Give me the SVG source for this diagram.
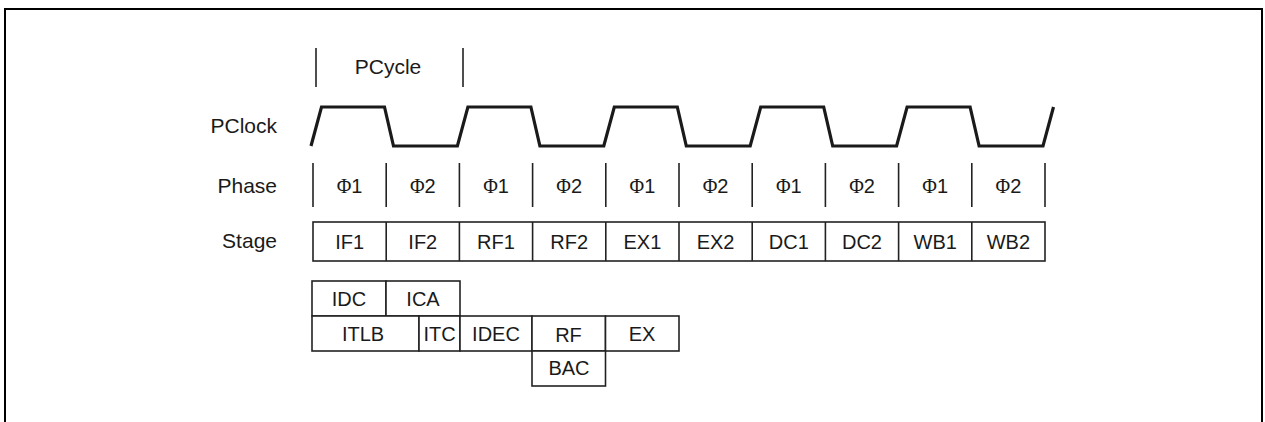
<svg xmlns="http://www.w3.org/2000/svg" width="1265" height="422" viewBox="0 0 1265 422">
<style>
  text { font-family: "Liberation Sans", Arial, sans-serif; fill: #1a1a1a; }
  .lbl { font-size: 21px; text-anchor: end; }
  .t { font-size: 20px; text-anchor: middle; }
  .phi { font-family: "Liberation Serif", "Times New Roman", serif; }
  .tick { stroke: #222; stroke-width: 1.6; fill: none; }
  .box { stroke: #222; stroke-width: 1.6; fill: #fff; }
  .clk { stroke: #1a1a1a; stroke-width: 3.2; fill: none; stroke-linejoin: miter; }
</style>
<rect width="1265" height="422" fill="#fff"/>
<path d="M5,422 V9 H1262 V422" fill="none" stroke="#000" stroke-width="2"/>

<g id="labels">
  <text class="lbl" x="277" y="133">PClock</text>
  <text class="lbl" x="277" y="193">Phase</text>
  <text class="lbl" x="277" y="248">Stage</text>
</g>

<g id="pcycle">
  <line class="tick" x1="316" y1="48" x2="316" y2="87"/>
  <line class="tick" x1="463" y1="48" x2="463" y2="87"/>
  <text class="t" x="388" y="74" style="font-size:21px">PCycle</text>
</g>

<g id="pclock">
  <path class="clk" d="M311,146 L321.5,107 L384.5,107 L393.5,146 L457.4,146 L467.9,107 L530.9,107 L539.9,146 L603.8,146 L614.3,107 L677.3,107 L686.3,146 L750.2,146 L760.7,107 L823.7,107 L832.7,146 L896.6,146 L907.1,107 L970.1,107 L979.1,146 L1043,146 L1053.5,107"/>
</g>

<g id="phase">
  <g class="tick">
    <line x1="313" y1="163" x2="313" y2="207"/>
    <line x1="386.2" y1="163" x2="386.2" y2="207"/>
    <line x1="459.4" y1="163" x2="459.4" y2="207"/>
    <line x1="532.6" y1="163" x2="532.6" y2="207"/>
    <line x1="605.8" y1="163" x2="605.8" y2="207"/>
    <line x1="679" y1="163" x2="679" y2="207"/>
    <line x1="752.2" y1="163" x2="752.2" y2="207"/>
    <line x1="825.4" y1="163" x2="825.4" y2="207"/>
    <line x1="898.6" y1="163" x2="898.6" y2="207"/>
    <line x1="971.8" y1="163" x2="971.8" y2="207"/>
    <line x1="1045" y1="163" x2="1045" y2="207"/>
  </g>
  <text class="t" x="349.6" y="193"><tspan class="phi">Φ</tspan>1</text>
  <text class="t" x="422.8" y="193"><tspan class="phi">Φ</tspan>2</text>
  <text class="t" x="496" y="193"><tspan class="phi">Φ</tspan>1</text>
  <text class="t" x="569.2" y="193"><tspan class="phi">Φ</tspan>2</text>
  <text class="t" x="642.4" y="193"><tspan class="phi">Φ</tspan>1</text>
  <text class="t" x="715.6" y="193"><tspan class="phi">Φ</tspan>2</text>
  <text class="t" x="788.8" y="193"><tspan class="phi">Φ</tspan>1</text>
  <text class="t" x="862" y="193"><tspan class="phi">Φ</tspan>2</text>
  <text class="t" x="935.2" y="193"><tspan class="phi">Φ</tspan>1</text>
  <text class="t" x="1008.4" y="193"><tspan class="phi">Φ</tspan>2</text>
</g>

<g id="stage">
  <rect class="box" x="313" y="222" width="732" height="39"/>
  <g class="tick">
    <line x1="386.2" y1="222" x2="386.2" y2="261"/>
    <line x1="459.4" y1="222" x2="459.4" y2="261"/>
    <line x1="532.6" y1="222" x2="532.6" y2="261"/>
    <line x1="605.8" y1="222" x2="605.8" y2="261"/>
    <line x1="679" y1="222" x2="679" y2="261"/>
    <line x1="752.2" y1="222" x2="752.2" y2="261"/>
    <line x1="825.4" y1="222" x2="825.4" y2="261"/>
    <line x1="898.6" y1="222" x2="898.6" y2="261"/>
    <line x1="971.8" y1="222" x2="971.8" y2="261"/>
  </g>
  <text class="t" x="349.6" y="249">IF1</text>
  <text class="t" x="422.8" y="249">IF2</text>
  <text class="t" x="496" y="249">RF1</text>
  <text class="t" x="569.2" y="249">RF2</text>
  <text class="t" x="642.4" y="249">EX1</text>
  <text class="t" x="715.6" y="249">EX2</text>
  <text class="t" x="788.8" y="249">DC1</text>
  <text class="t" x="862" y="249">DC2</text>
  <text class="t" x="935.2" y="249">WB1</text>
  <text class="t" x="1008.4" y="249">WB2</text>
</g>

<g id="idc"><rect class="box" x="312" y="281" width="74" height="35"/><text class="t" x="349" y="306">IDC</text></g>
<g id="ica"><rect class="box" x="386" y="281" width="74" height="35"/><text class="t" x="423" y="306">ICA</text></g>
<g id="itlb"><rect class="box" x="312" y="316" width="107" height="35"/><text class="t" x="363" y="341">ITLB</text></g>
<g id="itc"><rect class="box" x="419" y="316" width="41" height="35"/><text class="t" x="439.5" y="341">ITC</text></g>
<g id="idec"><rect class="box" x="460" y="316" width="72" height="35"/><text class="t" x="496" y="341">IDEC</text></g>
<g id="rf"><rect class="box" x="532" y="316" width="73.5" height="35"/><text class="t" x="568.5" y="342">RF</text></g>
<g id="ex"><rect class="box" x="605.5" y="316" width="73.5" height="35"/><text class="t" x="642" y="341">EX</text></g>
<g id="bac"><rect class="box" x="532" y="351" width="73.5" height="35"/><text class="t" x="569" y="375">BAC</text></g>
</svg>
